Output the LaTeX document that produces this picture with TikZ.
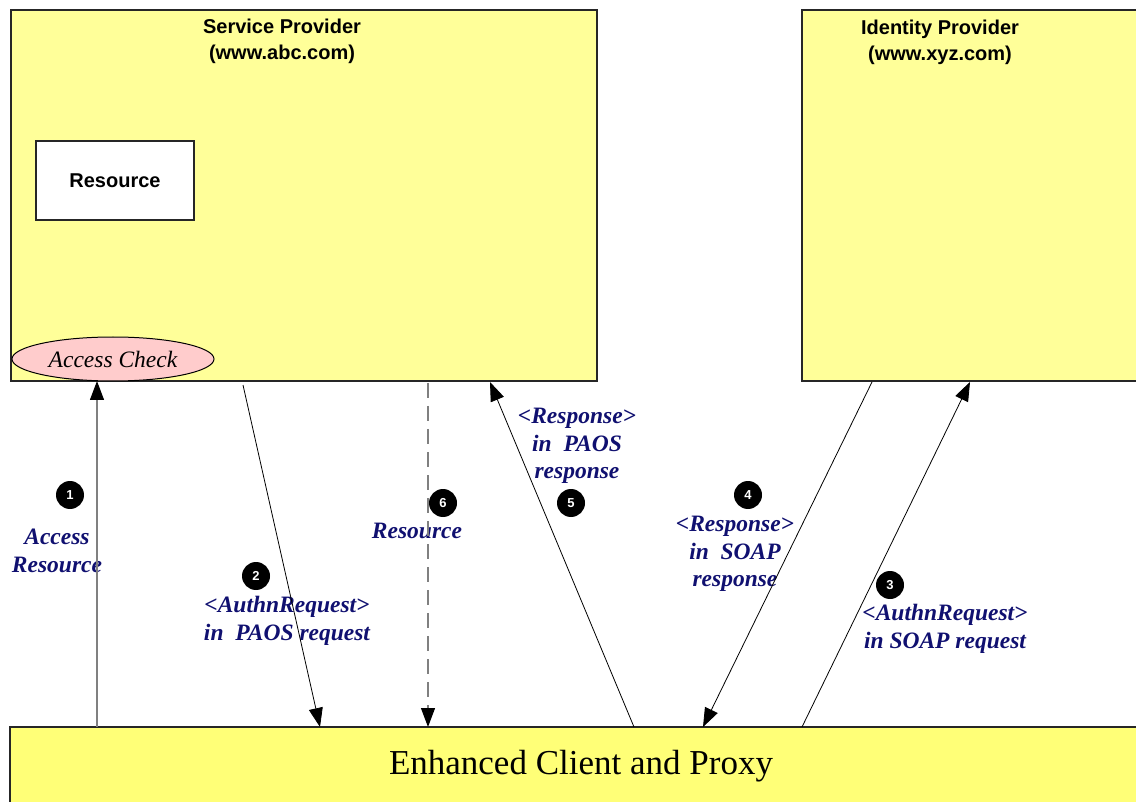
\documentclass[tikz,border=0pt]{standalone}
\usepackage{fontspec}
\setmainfont{Liberation Serif}
\setsansfont{Liberation Sans}
\usetikzlibrary{arrows.meta,shapes.geometric}
\definecolor{spyellow}{RGB}{255,255,153}
\definecolor{ecpyellow}{RGB}{255,255,119}
\definecolor{pinkfill}{RGB}{255,204,204}
\definecolor{labelblue}{RGB}{16,16,112}
\begin{document}
\begin{tikzpicture}[x=1pt,y=-1pt,
  party/.style={draw=black!85, line width=1.2pt, fill=spyellow, anchor=north west, outer sep=0pt, inner sep=0pt},
  title/.style={font=\sffamily\bfseries\fontsize{20}{26}\selectfont, align=center, inner sep=0pt},
  msg/.style={font=\bfseries\itshape\fontsize{23.5}{27.5}\selectfont, text=labelblue, align=center, inner sep=0pt},
  num/.style={circle, fill=black, text=white, font=\sffamily\bfseries\fontsize{13}{13}\selectfont, minimum size=28pt, inner sep=0pt},
  tip/.style={-{Triangle[length=19pt,width=14pt,color=black]}},
  flow/.style={tip, line width=0.8pt, draw=black},
  grayflow/.style={tip, line width=1.2pt, draw=gray},
]
\useasboundingbox (0,0) rectangle (1136,802);
\clip (0,0) rectangle (1136,802);

% parties
\node[party, minimum width=586pt, minimum height=371pt] (sp) at (11,10) {};
\node[title] (spt) at (282,41) {Service Provider\\(www.abc.com)};
\node[party, minimum width=400pt, minimum height=371pt] (idp) at (802,10) {};
\node[title] (idpt) at (940,42) {Identity Provider\\(www.xyz.com)};
\node[party, fill=ecpyellow, minimum width=1200pt, minimum height=200pt] (ecp) at (10,727) {};
\node[font=\fontsize{35}{40}\selectfont, inner sep=0pt] (ecpt) at (581,766) {Enhanced Client and Proxy};

% service provider internals
\node[draw=black!85, line width=1.2pt, fill=white, anchor=north west, outer sep=0pt,
      minimum width=158pt, minimum height=79pt, font=\sffamily\bfseries\fontsize{20}{24}\selectfont] (res) at (36,141) {Resource};
\node[ellipse, draw=black, line width=1pt, fill=pinkfill, minimum width=202pt, minimum height=44pt,
      inner sep=0pt, font=\itshape\fontsize{23.5}{28}\selectfont] (ac) at (113,359) {Access Check};

% step labels
\node[msg] (l1) at (57,551) {Access\\Resource};
\node[msg] (l2) at (287,621) {<AuthnRequest>\\in~~PAOS request};
\node[msg] (l6) at (417,531) {Resource};
\node[msg] (l5) at (577,446) {<Response>\\in~~PAOS\\response};
\node[msg] (l4) at (735,554) {<Response>\\in~~SOAP\\response};
\node[msg] (l3) at (945,629) {<AuthnRequest>\\in SOAP request};

\node[num] (n1) at (70,495) {1};
\node[num] (n2) at (256,576) {2};
\node[num] (n3) at (890,585) {3};
\node[num] (n4) at (748,495) {4};
\node[num] (n5) at (571,503) {5};
\node[num] (n6) at (443,503) {6};

% connector end points on the boxes
\coordinate (a1s) at (97,727);  \coordinate (a1e) at (97,381);
\coordinate (a2s) at (243,385); \coordinate (a2e) at (320,727);
\coordinate (a6s) at (428,383); \coordinate (a6e) at (428,727);
\coordinate (a5s) at (634,727); \coordinate (a5e) at (490,382);
\coordinate (a4s) at (872,382); \coordinate (a4e) at (703,727);
\coordinate (a3s) at (802,727); \coordinate (a3e) at (970,382);

% message flows
\draw[grayflow] (a1s) -- (a1e);
\draw[flow] (a2s) -- (a2e);
\draw[grayflow, dash pattern=on 15pt off 8pt] (a6s) -- (a6e);
\draw[flow] (a5s) -- (a5e);
\draw[flow] (a4s) -- (a4e);
\draw[flow] (a3s) -- (a3e);
\end{tikzpicture}
\end{document}
